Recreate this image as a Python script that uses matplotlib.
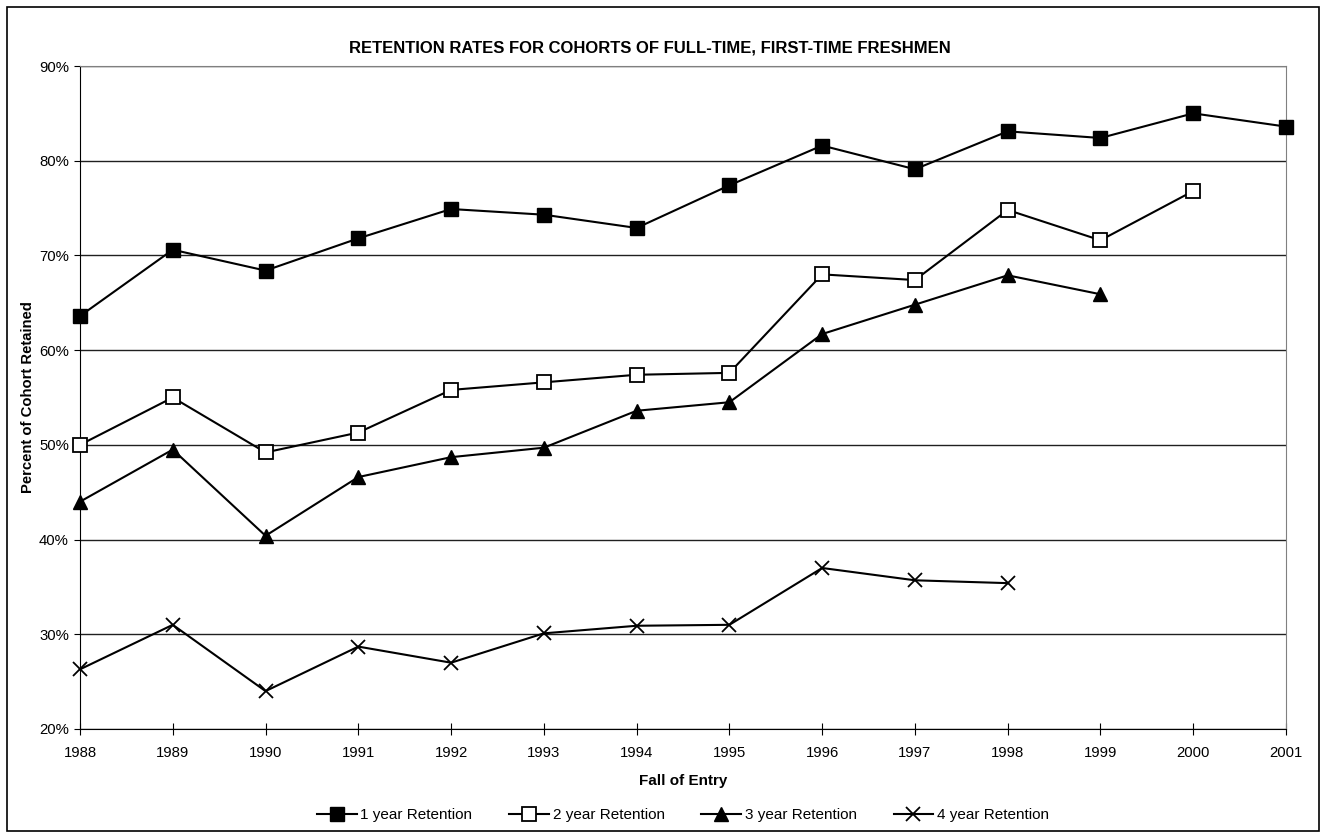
import matplotlib
matplotlib.use("Agg")
import matplotlib.pyplot as plt
from matplotlib.patches import Rectangle
from matplotlib.ticker import FuncFormatter

years = list(range(1988, 2002))
ret1 = [63.6, 70.6, 68.4, 71.8, 74.9, 74.3, 72.9, 77.4, 81.6, 79.1, 83.1, 82.4, 85.0, 83.6]
ret2 = [50.0, 55.0, 49.2, 51.3, 55.8, 56.6, 57.4, 57.6, 68.0, 67.4, 74.8, 71.6, 76.8]
ret3 = [44.0, 49.5, 40.4, 46.6, 48.7, 49.7, 53.6, 54.5, 61.7, 64.8, 67.9, 65.9]
ret4 = [26.3, 31.0, 24.0, 28.7, 27.0, 30.1, 30.9, 31.0, 37.0, 35.7, 35.4]
labels = ["1 year Retention", "2 year Retention", "3 year Retention", "4 year Retention"]
yticks = [20, 30, 40, 50, 60, 70, 80, 90]

plt.rcParams['font.family'] = ['Liberation Sans', 'DejaVu Sans']

fig = plt.figure(figsize=(13.22, 8.38), dpi=100)
fig.patches.append(Rectangle((7/1322, 7/838), 1312/1322, 824/838, transform=fig.transFigure,
                             fill=False, edgecolor='black', linewidth=1.2))
ax = fig.add_axes([80/1322, (838-729)/838, (1286-80)/1322, (729-66)/838])

common = dict(color='black', lw=1.5, ms=10.5, clip_on=False, zorder=3)
ax.plot(years[:len(ret1)], ret1, marker='s', mfc='black', mec='black', label=labels[0], **common)
ax.plot(years[:len(ret2)], ret2, marker='s', mfc='white', mec='black', mew=1.3, label=labels[1], **common)
ax.plot(years[:len(ret3)], ret3, marker='^', mfc='black', mec='black', label=labels[2], **common)
ax.plot(years[:len(ret4)], ret4, marker='x', mec='black', mew=1.3, label=labels[3], **common)

ax.set_xlim(1988, 2001)
ax.set_ylim(20, 90)
ax.set_xticks(years)
ax.set_yticks(yticks)
ax.yaxis.set_major_formatter(FuncFormatter(lambda v, p: f"{int(v)}%"))
ax.grid(axis='y', color='#202020', lw=1.0)
ax.set_axisbelow(True)
for s in ['top', 'right']:
    ax.spines[s].set_color('#808080')
ax.spines['left'].set_color('black')
ax.spines['bottom'].set_color('black')
ax.tick_params(axis='x', direction='inout', length=8, labelsize=10.7, pad=8)
ax.tick_params(axis='y', direction='out', length=4, labelsize=10.7, pad=4)

fig.text(650/1322, 1 - 48/838, "RETENTION RATES FOR COHORTS OF FULL-TIME, FIRST-TIME FRESHMEN",
         fontsize=12, fontweight='bold', ha='center', va='center')
ax.set_xlabel("Fall of Entry", fontsize=11, fontweight='bold', labelpad=10)
ax.set_ylabel("Percent of Cohort Retained", fontsize=10.7, fontweight='bold', labelpad=3)

ax.legend(loc='center', bbox_to_anchor=(0.5, -0.130), ncol=4, frameon=False,
          fontsize=11, handlelength=2.6, columnspacing=2.4, handletextpad=0.25)

fig.savefig("out.png", dpi=100)
